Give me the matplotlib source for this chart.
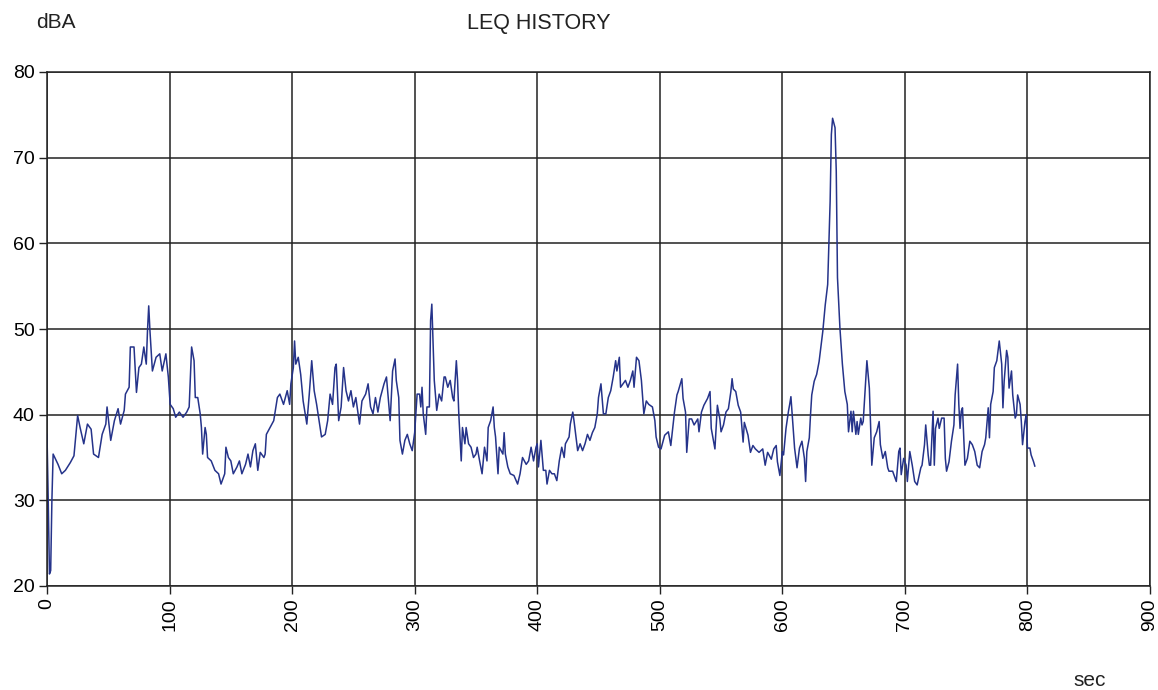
import matplotlib
matplotlib.use("Agg")
import matplotlib.pyplot as plt

plt.rcParams['font.family'] = ['Liberation Sans', 'DejaVu Sans']

# time (sec) and Leq level (dBA)
sec = [0, 1, 2, 3, 4, 5, 7, 9, 12, 15, 19, 22, 25, 27, 30, 33, 36, 38, 42, 45,
       48, 49, 52, 55, 58, 60, 63, 64, 67, 68, 71, 73, 75, 77, 79, 81, 82, 83, 84, 86,
       89, 92, 94, 97, 99, 100.5, 103, 105, 108, 111, 114, 116, 118, 120, 121, 123, 125, 126, 127, 129,
       130, 131, 134, 137, 140, 142, 145, 146, 148, 150, 152, 155, 157, 159, 162, 164, 166, 168, 170, 172,
       174, 177, 178, 179, 182, 185, 188, 190, 193, 196, 198, 199, 201, 202, 203, 205, 207, 209, 212, 214,
       216, 218, 220, 222, 224, 227, 229, 231, 233, 235, 236, 238, 240, 242, 244, 246, 248, 250, 252, 255,
       257, 260, 262, 264, 266, 268, 270, 272, 275, 277, 279, 280, 282, 284, 285, 287, 288, 290, 292, 294,
       296, 298, 300, 302, 304, 305, 306, 307, 309, 310, 312, 313, 314, 315, 316, 318, 320, 322, 324, 325,
       327, 329, 331, 332, 334, 335, 336, 338, 339, 341, 342, 344, 346, 348, 350, 351, 353, 355, 357, 359,
       360, 362, 364, 365, 366, 368, 369, 372, 373, 374, 376, 378, 381, 384, 386, 388, 391, 393, 395, 397,
       399, 400, 401, 403, 405, 407, 408, 410, 412, 414, 416, 418, 420, 422, 423, 426, 427, 429, 430, 433,
       435, 437, 439, 441, 443, 445, 447, 449, 450, 452, 454, 456, 458, 460, 462, 464, 465, 467, 468, 470,
       472, 474, 476, 478, 479, 481, 483, 485, 487, 489, 491, 494, 496, 497, 499, 501, 504, 507, 509, 512,
       514, 515, 518, 519, 521, 522, 524, 526, 528, 531, 532, 534, 536, 539, 541, 542, 545, 547, 549, 550,
       552, 554, 556, 558, 559, 560, 562, 564, 566, 568, 569, 572, 574, 576, 578, 581, 584, 586, 588, 591,
       593, 595, 596, 598, 600, 601, 603, 605, 606, 607, 609, 610, 612, 614, 616, 618, 619, 620, 622, 623,
       624, 626, 628, 630, 633, 635, 637, 639, 640, 641, 643, 644, 645, 647, 649, 651, 653, 654, 656, 657,
       658, 660, 661, 662, 664, 665, 666, 668, 669, 671, 672, 673, 675, 677, 679, 680, 682, 684, 686, 687,
       690, 691, 693, 695, 696, 697, 699, 701, 702, 704, 706, 708, 710, 713, 714, 716, 717, 719, 720, 721,
       723, 724, 725, 727, 728, 730, 732, 733, 734, 736, 738, 740, 741, 743, 744, 745, 746, 747, 749, 751,
       753, 755, 757, 759, 761, 763, 765, 766, 768, 769, 770, 772, 773, 775, 776, 777, 779, 780, 781, 783,
       784, 785, 787, 788, 790, 791, 792, 794, 795, 796, 798, 799, 800, 802, 803, 805, 806]

dba = [37.7, 30.0, 21.4, 21.8, 30.0, 35.4, 34.8, 34.2, 33.1, 33.5, 34.4, 35.2, 39.9, 38.5, 36.6, 38.9, 38.3, 35.4, 35.0, 37.7,
       38.9, 40.9, 37.0, 39.3, 40.7, 38.9, 40.5, 42.4, 43.2, 47.9, 47.9, 42.6, 45.5, 45.9, 47.9, 45.9, 49.8, 52.7, 49.8, 45.1,
       46.7, 47.1, 45.1, 47.1, 44.4, 41.2, 40.7, 39.7, 40.3, 39.7, 40.3, 40.9, 47.9, 46.3, 42.0, 42.0, 40.1, 38.5, 35.4, 38.5,
       37.7, 35.0, 34.6, 33.5, 33.1, 31.9, 33.1, 36.2, 35.0, 34.6, 33.1, 33.9, 34.6, 33.1, 34.2, 35.4, 33.9, 35.8, 36.6, 33.5,
       35.6, 35.0, 35.4, 37.7, 38.5, 39.3, 42.0, 42.4, 41.2, 42.8, 41.2, 43.6, 45.5, 48.6, 45.9, 46.7, 44.7, 41.6, 38.9, 42.4,
       46.3, 42.8, 41.2, 39.3, 37.4, 37.7, 39.3, 42.4, 41.2, 45.5, 45.9, 39.3, 40.9, 45.5, 42.8, 41.6, 42.8, 40.9, 42.0, 38.9,
       41.6, 42.4, 43.6, 40.9, 40.1, 42.0, 40.3, 42.0, 43.6, 44.4, 40.9, 39.3, 45.1, 46.5, 44.0, 42.0, 37.0, 35.4, 37.0, 37.7,
       36.6, 35.8, 37.9, 42.4, 42.4, 40.9, 43.2, 40.1, 37.7, 40.9, 40.9, 51.0, 52.9, 48.6, 44.0, 40.5, 42.4, 41.6, 44.4, 44.4,
       43.2, 44.0, 42.0, 41.6, 46.3, 44.0, 40.1, 34.6, 38.5, 36.6, 38.5, 36.6, 36.2, 35.0, 35.4, 36.2, 34.6, 33.1, 36.2, 34.6,
       38.5, 39.3, 40.9, 38.5, 37.4, 33.1, 36.2, 35.4, 37.9, 35.4, 33.9, 33.1, 32.9, 31.9, 33.1, 35.0, 34.2, 34.6, 36.2, 34.6,
       36.2, 36.6, 33.9, 37.0, 33.5, 33.5, 31.9, 33.5, 33.1, 33.1, 32.3, 34.6, 36.2, 35.0, 36.6, 37.4, 38.9, 40.3, 39.3, 35.8,
       36.6, 35.8, 36.6, 37.7, 37.0, 37.9, 38.5, 40.1, 42.0, 43.6, 40.1, 40.1, 42.0, 42.8, 44.4, 46.3, 45.1, 46.7, 43.2, 43.6,
       44.0, 43.2, 44.0, 45.1, 43.2, 46.7, 46.3, 44.0, 40.1, 41.6, 41.2, 40.9, 39.3, 37.4, 36.2, 36.0, 37.6, 38.0, 36.4, 40.3,
       42.3, 42.7, 44.2, 41.9, 40.3, 35.6, 39.5, 39.5, 38.8, 39.5, 38.0, 40.3, 41.1, 41.9, 42.7, 38.4, 36.0, 41.1, 39.5, 38.0,
       38.8, 40.3, 40.7, 42.7, 44.2, 43.0, 42.7, 41.1, 40.3, 36.8, 39.1, 37.6, 35.6, 36.4, 36.0, 35.6, 36.0, 34.1, 35.6, 34.8,
       36.0, 36.4, 34.5, 32.9, 35.7, 35.3, 38.4, 40.4, 41.2, 42.1, 38.0, 36.1, 33.8, 36.1, 36.9, 34.9, 32.2, 35.7, 37.3, 40.0,
       42.3, 43.9, 44.7, 46.2, 49.7, 52.8, 55.2, 64.9, 72.7, 74.6, 73.5, 68.4, 56.0, 50.1, 45.9, 42.7, 41.2, 38.0, 40.4, 38.0,
       40.4, 37.7, 39.2, 37.7, 39.6, 38.8, 39.2, 43.9, 46.3, 43.1, 38.8, 34.1, 37.3, 38.0, 39.2, 36.5, 34.9, 35.7, 33.8, 33.4,
       33.4, 33.0, 32.2, 35.7, 36.1, 33.0, 34.9, 34.1, 32.2, 35.7, 34.1, 32.2, 31.8, 33.8, 34.1, 36.5, 38.8, 35.3, 34.1, 34.1,
       40.4, 34.1, 38.4, 39.6, 38.4, 39.6, 39.6, 34.9, 33.4, 34.5, 36.9, 38.8, 42.3, 45.9, 41.2, 38.4, 40.4, 40.8, 34.1, 34.9,
       36.9, 36.5, 35.7, 34.1, 33.8, 35.7, 36.5, 37.3, 40.8, 37.3, 41.2, 42.7, 45.5, 46.3, 47.5, 48.6, 45.9, 40.8, 43.9, 47.5,
       46.7, 43.1, 45.1, 42.3, 39.6, 40.0, 42.3, 41.2, 39.2, 36.5, 39.2, 40.0, 36.1, 36.1, 35.3, 34.5, 34.0]

x_ticks = [0, 100, 200, 300, 400, 500, 600, 700, 800, 900]
y_ticks = [20, 30, 40, 50, 60, 70, 80]

fig = plt.figure(figsize=(11.58, 6.90), dpi=100)
ax = fig.add_axes([47/1158, 104/690, 1103/1158, 514/690])

ax.plot(sec, dba, color='#25338a', linewidth=1.1)

ax.set_xlim(0, 900)
ax.set_ylim(20, 80)
ax.set_xticks(x_ticks)
ax.set_yticks(y_ticks)
ax.set_xticklabels([str(v) for v in x_ticks], rotation=90, fontsize=14)
ax.set_yticklabels([str(v) for v in y_ticks], fontsize=14)
ax.grid(True, color='#222222', linewidth=1.1)
ax.set_axisbelow(True)
for s in ax.spines.values():
    s.set_color('#222222')
    s.set_linewidth(1.1)
ax.tick_params(axis='both', direction='out', length=6, width=1, color='#222222', pad=3)

fig.text(56/1158, 1 - 22/690, 'dBA', ha='center', va='center', fontsize=15, color='#222222')
fig.text(539/1158, 1 - 24/690, 'LEQ HISTORY', ha='center', va='center', fontsize=15.5, color='#222222')
fig.text(1090/1158, 1 - 680/690, 'sec', ha='center', va='center', fontsize=15, color='#222222')

fig.savefig('out.png', dpi=100, facecolor='white')
